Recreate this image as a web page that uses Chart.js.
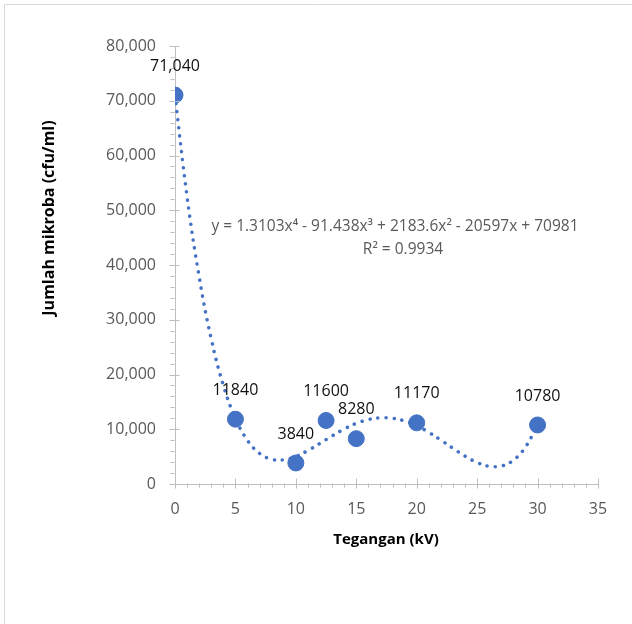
<!DOCTYPE html>
<html>
<head>
<meta charset="utf-8">
<script src="https://cdn.jsdelivr.net/npm/chart.js@4.4.1/dist/chart.umd.min.js"></script>
<style>
  body { margin: 0; background: #fff; }
  canvas { display: block; }
</style>
</head>
<body>
<canvas id="grafik" width="632" height="624"></canvas>
<script>
// data titik pengamatan
const tegangan = [0, 5, 10, 12.5, 15, 20, 30];
const jumlahMikroba = [71040, 11840, 3840, 11600, 8280, 11170, 10780];
const labelTitik = ["71,040", "11840", "3840", "11600", "8280", "11170", "10780"];

// garis tren (tiap 1 kV)
const trenX = [0, 1, 2, 3, 4, 5, 6, 7, 8, 9, 10, 11, 12, 13, 14, 15, 16, 17, 18, 19, 20,
  21, 22, 23, 24, 25, 26, 27, 28, 29, 30];
const trenY = [70981, 52477, 37811, 26480, 18014, 11975, 7956, 5581, 4506, 4418, 5036,
  6110, 7421, 8783, 10039, 11067, 11772, 12095, 12005, 11504, 10625,
  9433, 8023, 6524, 5094, 3923, 3234, 3279, 4344, 6745, 10828];

const persamaan = "y = 1.3103x\u2074 - 91.438x\u00b3 + 2183.6x\u00b2 - 20597x + 70981";
const nilaiR2 = "R\u00b2 = 0.9934";

const abu = "#bfbfbf";

// plugin: bingkai, tick minor/mayor, label data, judul sumbu, persamaan
const hiasan = {
  id: "hiasan",
  beforeDraw(chart) {
    const ctx = chart.ctx;
    ctx.save();
    ctx.strokeStyle = "#d9d9d9";
    ctx.lineWidth = 1;
    ctx.beginPath();
    ctx.moveTo(4.5, 624);
    ctx.lineTo(4.5, 4.5);
    ctx.lineTo(632, 4.5);
    ctx.stroke();
    ctx.restore();
  },
  afterDraw(chart) {
    const ctx = chart.ctx;
    const sx = chart.scales.x;
    const sy = chart.scales.y;
    const kiri = Math.round(chart.chartArea.left) - 0.5;
    const bawah = Math.round(chart.chartArea.bottom) - 0.5;
    ctx.save();
    ctx.strokeStyle = abu;
    ctx.lineWidth = 1;
    ctx.beginPath();
    for (let v = 0; v <= 80000; v += 2000) {
      const py = Math.round(sy.getPixelForValue(v)) + 0.5;
      if (v % 10000 === 0) {
        ctx.moveTo(kiri - 5, py);
        ctx.lineTo(kiri + 5, py);
      } else {
        ctx.moveTo(kiri - 4, py);
        ctx.lineTo(kiri, py);
      }
    }
    for (let v = 0; v <= 35; v += 1) {
      const px = Math.round(sx.getPixelForValue(v)) + 0.5;
      if (v % 5 === 0) {
        ctx.moveTo(px, bawah - 5);
        ctx.lineTo(px, bawah + 5);
      } else {
        ctx.moveTo(px, bawah);
        ctx.lineTo(px, bawah + 4);
      }
    }
    ctx.stroke();

    // label data
    const meta = chart.getDatasetMeta(1);
    ctx.fillStyle = "#111";
    ctx.font = "16px 'Open Sans'";
    ctx.textAlign = "center";
    ctx.textBaseline = "middle";
    meta.data.forEach((el, i) => {
      ctx.fillText(labelTitik[i], el.x, el.y - 29);
    });

    // persamaan garis tren
    ctx.fillStyle = "#595959";
    ctx.font = "15.5px 'Open Sans'";
    ctx.fillText(persamaan, 395, 227);
    ctx.fillText(nilaiR2, 403, 250);

    // judul sumbu
    ctx.fillStyle = "#000";
    ctx.font = "bold 15px 'Open Sans'";
    ctx.fillText("Tegangan (kV)", 386, 540);
    ctx.font = "bold 16px 'Open Sans'";
    ctx.translate(49, 218);
    ctx.rotate(-Math.PI / 2);
    ctx.fillText("Jumlah mikroba (cfu/ml)", 0, 0);
    ctx.restore();
  }
};

Chart.defaults.font.family = "'Open Sans', sans-serif";

const ctx = document.getElementById("grafik").getContext("2d");
const grafik = new Chart(ctx, {
  type: "scatter",
  data: {
    datasets: [
      {
        type: "line",
        label: "Tren",
        data: trenX.map((x, i) => ({ x: x, y: trenY[i] })),
        borderColor: "#4472c4",
        borderWidth: 3.5,
        borderDash: [0.1, 8],
        borderCapStyle: "round",
        pointRadius: 0,
        tension: 0.4,
        fill: false,
      },
      {
        label: "Jumlah mikroba",
        data: tegangan.map((x, i) => ({ x: x, y: jumlahMikroba[i] })),
        backgroundColor: "#4472c4",
        borderColor: "#4472c4",
        pointRadius: 8,
        pointHoverRadius: 8,
      },
    ],
  },
  options: {
    responsive: false,
    animation: false,
    layout: { padding: { left: 0, top: 46, right: 34, bottom: 0 } },
    plugins: {
      legend: { display: false },
      tooltip: { enabled: false },
    },
    scales: {
      x: {
        type: "linear",
        min: 0,
        max: 35,
        afterFit: (s) => { s.height = 140; },
        grid: { display: false, drawTicks: false },
        border: { color: abu },
        ticks: { stepSize: 5, color: "#595959", font: { size: 16 }, padding: 16, maxRotation: 0 },
      },
      y: {
        min: 0,
        max: 80000,
        afterFit: (s) => { s.width = 175; },
        grid: { display: false, drawTicks: false },
        border: { color: abu },
        ticks: {
          stepSize: 10000,
          color: "#595959",
          font: { size: 16 },
          padding: 19,
          callback: (v) => v.toLocaleString("en-US"),
        },
      },
    },
  },
  plugins: [hiasan],
});
</script>
</body>
</html>
